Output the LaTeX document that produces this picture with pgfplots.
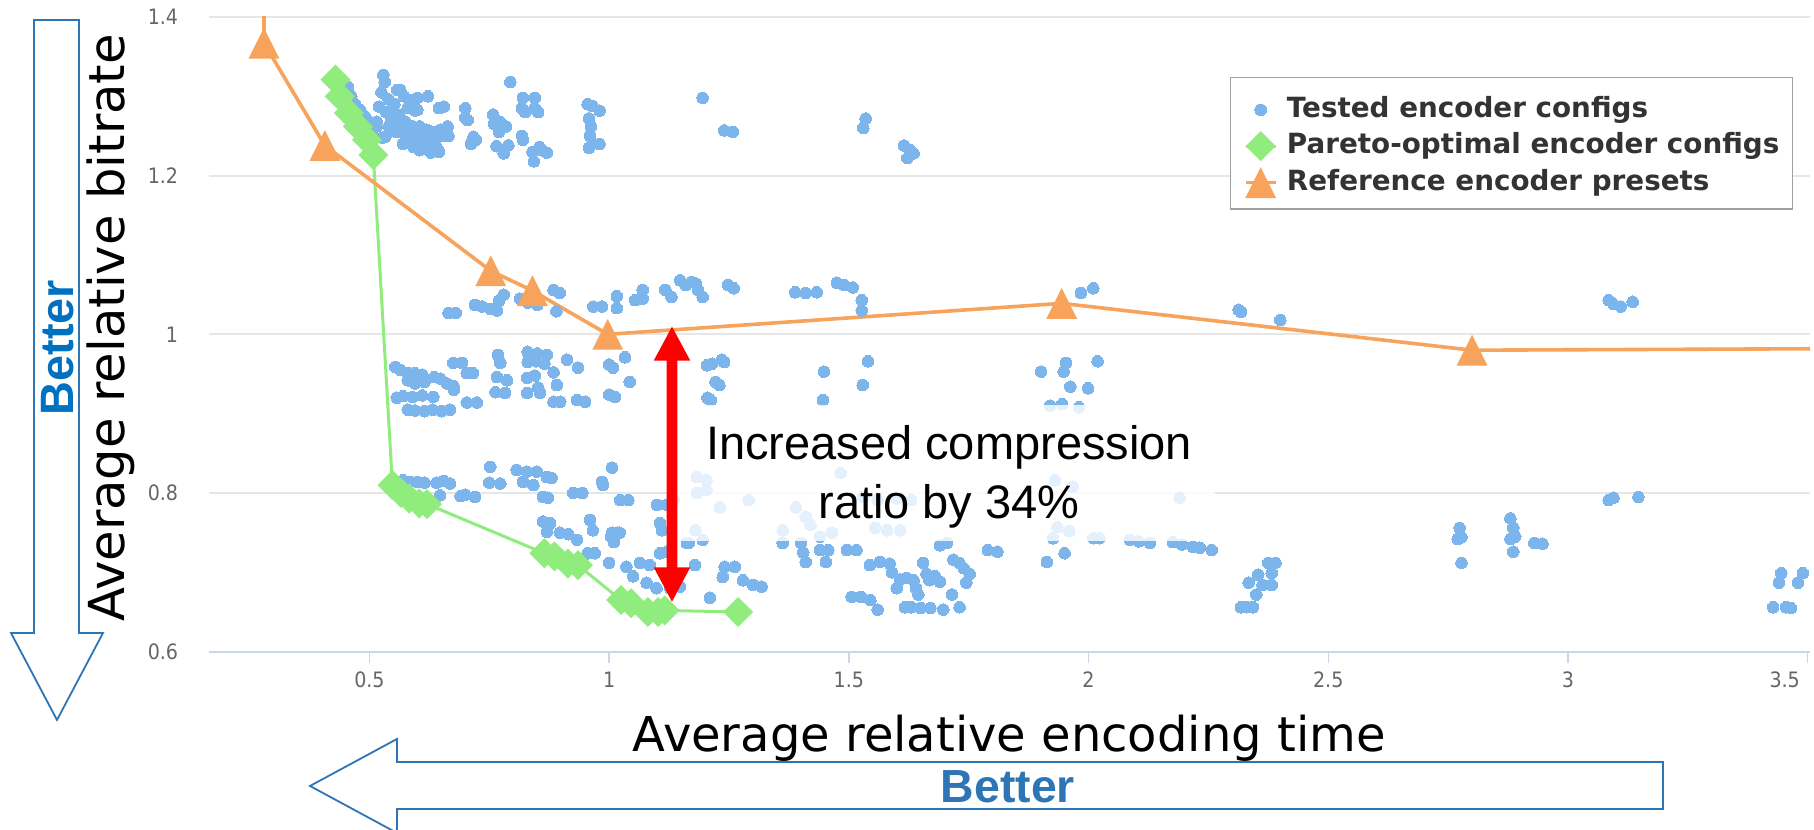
\documentclass[border=0pt]{standalone}
\usepackage{fontspec}
\usepackage{pgfplots}
\usepackage{pgfplotstable}
\pgfplotsset{compat=1.18}
\setmainfont{DejaVu Sans}
\newfontfamily\labelfont{DejaVu Sans}
\newfontfamily\tickfont{DejaVu Sans Condensed}
\newfontfamily\arialfont{Liberation Sans}

\definecolor{hcblue}{HTML}{7CB5EC}
\definecolor{hcgreen}{HTML}{90ED7D}
\definecolor{hcorange}{HTML}{F7A35C}
\definecolor{gridgray}{HTML}{E6E6E6}
\definecolor{axisline}{HTML}{CCD6EB}
\definecolor{tickgray}{HTML}{666666}
\definecolor{legtext}{HTML}{333333}
\definecolor{legborder}{HTML}{A0A0A0}
\definecolor{arrowblue}{HTML}{2E75B6}
\definecolor{betterblue}{HTML}{0070C0}

% square diamond and isosceles triangle markers
\pgfdeclareplotmark{hcdiamond}{%
  \pgfpathmoveto{\pgfqpoint{0pt}{\pgfplotmarksize}}%
  \pgfpathlineto{\pgfqpoint{\pgfplotmarksize}{0pt}}%
  \pgfpathlineto{\pgfqpoint{0pt}{-\pgfplotmarksize}}%
  \pgfpathlineto{\pgfqpoint{-\pgfplotmarksize}{0pt}}%
  \pgfpathclose\pgfusepathqfill}
\pgfdeclareplotmark{hctriangle}{%
  \pgfpathmoveto{\pgfqpoint{0pt}{\pgfplotmarksize}}%
  \pgfpathlineto{\pgfqpoint{\pgfplotmarksize}{-\pgfplotmarksize}}%
  \pgfpathlineto{\pgfqpoint{-\pgfplotmarksize}{-\pgfplotmarksize}}%
  \pgfpathclose\pgfusepathqfill}

% legend glyphs: a single mark, or a short line with one mark in its middle
\pgfplotsset{
  dotlegend/.style={legend image code/.code={%
    \draw[##1] plot coordinates {(3.75pt,1.85pt)};}},
  linelegend/.style={legend image code/.code={%
    \draw[##1, mark indices={2}]
      plot coordinates {(0pt,1.85pt) (3.75pt,1.85pt) (7.5pt,1.85pt)};}},
}

% all tested encoder configurations: time, bitrate
\pgfplotstableread{
x y
0.455 1.312
0.462 1.300
0.470 1.290
0.480 1.283
0.490 1.275
0.500 1.268
0.515 1.262
0.529 1.327
0.532 1.318
0.525 1.305
0.540 1.296
0.552 1.290
0.558 1.308
0.564 1.308
0.572 1.300
0.585 1.295
0.600 1.298
0.622 1.300
0.520 1.287
0.535 1.280
0.548 1.284
0.562 1.276
0.580 1.285
0.595 1.282
0.600 1.283
0.505 1.255
0.515 1.268
0.527 1.248
0.533 1.249
0.540 1.262
0.545 1.270
0.555 1.255
0.558 1.265
0.568 1.258
0.575 1.268
0.575 1.250
0.588 1.252
0.590 1.262
0.600 1.247
0.605 1.262
0.612 1.254
0.620 1.258
0.622 1.250
0.635 1.255
0.648 1.258
0.663 1.262
0.665 1.250
0.570 1.240
0.585 1.245
0.600 1.240
0.615 1.243
0.632 1.245
0.630 1.238
0.640 1.236
0.645 1.230
0.592 1.236
0.605 1.232
0.628 1.229
0.650 1.250
0.645 1.285
0.655 1.287
0.700 1.285
0.705 1.270
0.700 1.273
0.712 1.240
0.722 1.245
0.717 1.249
0.758 1.277
0.760 1.265
0.772 1.268
0.770 1.255
0.785 1.262
0.765 1.237
0.780 1.228
0.790 1.238
0.794 1.318
0.820 1.298
0.845 1.298
0.818 1.285
0.825 1.280
0.845 1.285
0.852 1.280
0.818 1.250
0.820 1.245
0.840 1.230
0.855 1.236
0.860 1.232
0.870 1.229
0.843 1.218
0.955 1.290
0.965 1.288
0.980 1.282
0.958 1.272
0.962 1.262
0.960 1.250
0.965 1.240
0.958 1.235
0.980 1.240
1.195 1.298
1.240 1.257
1.258 1.255
1.535 1.272
1.530 1.260
1.615 1.238
1.628 1.232
1.635 1.228
1.622 1.222
0.665 1.027
0.680 1.027
0.720 1.037
0.735 1.035
0.752 1.032
0.766 1.030
0.770 1.042
0.780 1.050
0.814 1.045
0.830 1.040
0.850 1.037
0.884 1.056
0.897 1.052
0.890 1.029
0.967 1.035
0.985 1.035
1.016 1.048
1.016 1.033
1.054 1.043
1.070 1.045
1.070 1.056
1.117 1.056
1.130 1.047
1.148 1.068
1.160 1.062
1.172 1.066
1.181 1.064
1.185 1.056
1.195 1.047
1.248 1.062
1.260 1.058
1.388 1.053
1.410 1.052
1.433 1.053
1.475 1.065
1.490 1.062
1.508 1.059
1.527 1.043
1.527 1.030
1.984 1.052
2.010 1.058
2.313 1.031
2.318 1.028
2.400 1.018
3.085 1.043
3.095 1.038
3.110 1.035
3.135 1.041
0.554 0.959
0.565 0.955
0.580 0.951
0.595 0.951
0.610 0.949
0.557 0.920
0.570 0.922
0.590 0.921
0.610 0.923
0.580 0.942
0.595 0.938
0.615 0.940
0.635 0.946
0.648 0.944
0.662 0.938
0.675 0.935
0.580 0.905
0.595 0.904
0.615 0.903
0.632 0.905
0.650 0.903
0.668 0.905
0.633 0.921
0.675 0.964
0.693 0.964
0.703 0.951
0.716 0.951
0.676 0.930
0.703 0.914
0.724 0.914
0.768 0.974
0.773 0.964
0.766 0.946
0.787 0.942
0.763 0.927
0.783 0.926
0.830 0.978
0.850 0.976
0.870 0.974
0.830 0.965
0.848 0.966
0.865 0.963
0.829 0.945
0.845 0.948
0.852 0.933
0.829 0.926
0.856 0.926
0.884 0.952
0.884 0.915
0.898 0.915
0.891 0.936
0.912 0.968
0.935 0.958
0.933 0.917
0.950 0.915
1.000 0.962
1.008 0.958
1.033 0.971
1.000 0.924
1.012 0.921
1.043 0.940
1.204 0.961
1.215 0.963
1.235 0.968
1.240 0.965
1.222 0.940
1.230 0.936
1.205 0.920
1.212 0.917
1.448 0.953
1.446 0.917
1.540 0.966
1.529 0.936
1.901 0.953
1.953 0.964
1.948 0.953
1.962 0.934
1.999 0.932
2.019 0.966
1.920 0.910
1.945 0.912
1.980 0.908
0.570 0.816
0.585 0.814
0.600 0.814
0.615 0.813
0.640 0.813
0.655 0.815
0.668 0.812
0.647 0.797
0.690 0.796
0.700 0.798
0.720 0.795
0.752 0.833
0.750 0.813
0.773 0.812
0.807 0.829
0.828 0.827
0.849 0.827
0.820 0.814
0.842 0.810
0.870 0.820
0.880 0.819
0.862 0.795
0.872 0.794
0.925 0.800
0.944 0.800
0.985 0.814
0.987 0.810
1.006 0.832
1.023 0.791
1.040 0.791
1.100 0.785
1.120 0.785
0.862 0.764
0.877 0.762
0.870 0.751
0.897 0.750
0.915 0.748
0.933 0.741
0.960 0.766
0.966 0.753
1.006 0.750
1.010 0.738
1.022 0.750
0.955 0.724
0.970 0.724
1.000 0.712
1.036 0.707
1.064 0.712
1.085 0.709
1.050 0.695
1.078 0.687
1.099 0.680
1.127 0.680
1.148 0.682
1.179 0.709
1.106 0.762
1.110 0.753
1.106 0.724
1.120 0.726
1.162 0.737
1.180 0.753
1.183 0.820
1.183 0.800
1.241 0.707
1.262 0.707
1.237 0.694
1.279 0.690
1.300 0.684
1.318 0.682
1.210 0.668
1.362 0.737
1.362 0.753
1.400 0.737
1.405 0.725
1.410 0.713
1.440 0.728
1.457 0.728
1.452 0.713
1.496 0.728
1.516 0.728
1.506 0.669
1.525 0.669
1.545 0.665
1.560 0.653
1.544 0.709
1.565 0.713
1.585 0.711
1.590 0.700
1.607 0.691
1.600 0.680
1.617 0.656
1.630 0.656
1.650 0.655
1.670 0.655
1.697 0.653
1.620 0.693
1.635 0.690
1.640 0.680
1.645 0.672
1.655 0.712
1.662 0.698
1.668 0.690
1.680 0.695
1.690 0.688
1.690 0.734
1.705 0.737
1.718 0.716
1.730 0.712
1.740 0.705
1.752 0.698
1.745 0.687
1.715 0.672
1.731 0.656
1.790 0.728
1.810 0.726
1.913 0.713
1.950 0.724
1.926 0.743
2.010 0.743
2.023 0.743
2.086 0.741
2.105 0.739
2.128 0.737
2.176 0.738
2.195 0.735
2.218 0.732
2.232 0.731
2.257 0.728
2.318 0.656
2.330 0.656
2.343 0.656
2.350 0.672
2.334 0.687
2.354 0.697
2.363 0.684
2.375 0.712
2.390 0.712
2.382 0.699
2.382 0.684
2.774 0.756
2.778 0.744
2.770 0.742
2.778 0.712
2.880 0.768
2.886 0.756
2.880 0.742
2.890 0.745
2.886 0.726
2.930 0.737
2.947 0.736
3.085 0.791
3.095 0.794
3.147 0.795
3.428 0.656
3.455 0.656
3.465 0.655
3.440 0.687
3.445 0.699
3.480 0.687
3.490 0.699
1.135 0.791
1.004 0.745
1.018 0.750
1.166 0.737
1.195 0.741
1.203 0.816
1.203 0.804
1.231 0.782
1.291 0.791
1.390 0.782
1.410 0.770
1.420 0.760
1.440 0.745
1.465 0.750
1.483 0.825
1.530 0.795
1.560 0.791
1.600 0.793
1.630 0.791
1.555 0.756
1.580 0.753
1.607 0.753
1.930 0.816
1.967 0.808
1.935 0.757
1.960 0.752
2.190 0.794
}\tested

% Pareto front
\pgfplotstableread{
x y
0.429 1.321
0.438 1.300
0.457 1.279
0.476 1.262
0.495 1.245
0.508 1.226
0.548 0.810
0.566 0.800
0.583 0.793
0.604 0.787
0.620 0.786
0.865 0.724
0.886 0.720
0.914 0.711
0.935 0.709
1.025 0.665
1.046 0.661
1.081 0.650
1.102 0.650
1.116 0.652
1.269 0.650
}\pareto

% reference presets (first and last rows lie outside the visible range)
\pgfplotstableread{
x y
0.280 1.600
0.280 1.367
0.407 1.238
0.753 1.080
0.840 1.055
0.997 1.000
1.944 1.039
2.800 0.980
4.000 0.983
}\presets

\begin{document}
\begin{tikzpicture}
\begin{axis}[
  at={(52.175pt,44.575pt)}, anchor=south west,
  scale only axis, width=400.33pt, height=158.68pt,
  xmin=0.1647, xmax=3.505, ymin=0.6, ymax=1.4,
  axis x line=bottom, axis y line=left,
  x axis line style={-, draw=axisline, line width=0.5pt},
  y axis line style={-, draw=none},
  xtick={0.5,1,1.5,2,2.5,3},
  extra x ticks={3.5},
  extra x tick style={xticklabel style={anchor=north east, xshift=-1.75pt}},
  ytick={0.6,0.8,1,1.2,1.4},
  xtick style={draw=axisline, line width=0.35pt},
  ytick style={draw=none},
  tick align=outside, major tick length=2.75pt,
  ymajorgrids, major grid style={draw=gridgray, line width=0.5pt},
  /pgf/number format/assume math mode=true,
  ticklabel style={font=\tickfont\fontsize{5.3}{6}\selectfont, text=tickgray},
  xticklabel style={anchor=north, inner sep=0pt, yshift=-2.1pt},
  yticklabel style={anchor=east, inner sep=0pt, xshift=-4.7pt},
  xlabel={Average relative encoding time},
  ylabel={Average relative bitrate},
  label style={font=\labelfont\fontsize{12}{14}\selectfont, inner sep=0pt},
  xlabel style={at={(axis description cs:0.5,-0.158)}, anchor=base},
  ylabel style={at={(axis description cs:-0.0523,0.51)}, anchor=base,
    font=\labelfont\fontsize{12.4}{14}\selectfont},
  legend style={
    at={(axis description cs:0.6378,0.9055)}, anchor=north west,
    draw=legborder, line width=0.35pt, fill=white,
    inner xsep=3.3pt, inner ysep=2.7pt,
    row sep=0pt, column sep=2.35pt,
    cells={anchor=base west},
    nodes={inner sep=0pt, text height=7.2pt, text depth=1.9pt,
      font=\labelfont\bfseries\fontsize{6.95}{8}\selectfont, text=legtext},
  },
]
\addplot[only marks, mark=*, mark size=1.45pt, color=hcblue,
  mark options={line width=0pt}, dotlegend]
  table[x=x, y=y] {\tested};
\addplot[color=hcgreen, line width=0.75pt, mark=hcdiamond, mark size=3.75pt,
  mark options={fill=hcgreen}, linelegend]
  table[x=x, y=y] {\pareto};
\addplot[color=hcorange, line width=0.9pt, mark=hctriangle, mark size=3.85pt,
  mark options={fill=hcorange}, mark indices={1,2,3,4,5,6,7}, linelegend]
  table[x=x, y=y] {\presets};
\legend{Tested encoder configs, Pareto-optimal encoder configs, Reference encoder presets}
\end{axis}

% annotations, measured from the top-left corner in units of 0.25pt
\begin{scope}[x=0.25pt, y=-0.25pt, shift={(0pt,207.5pt)}]
  % backdrop of the annotation text
  \fill[white, opacity=0.8] (677,405) rectangle (1215,541);
  % double-headed gain arrow
  \fill[red] (672,326.7) -- (690.3,360.7) -- (677.3,360.7) -- (677.3,567.3)
    -- (690.3,567.3) -- (672,601.7) -- (653.7,567.3) -- (666.7,567.3)
    -- (666.7,360.7) -- (653.7,360.7) -- cycle;
  \node[anchor=base, inner sep=0pt, font=\arialfont\fontsize{11.75}{14}\selectfont]
    at (949,460) {Increased compression};
  \node[anchor=base, inner sep=0pt, font=\arialfont\fontsize{11.75}{14}\selectfont]
    at (949,518.3) {ratio by 34\%};
  % "better" direction arrows
  \draw[arrowblue, line width=0.45pt, fill=white, line join=miter]
    (34,20) -- (79,20) -- (79,633) -- (103,633) -- (57,720) -- (11,633) -- (34,633) -- cycle;
  \node[rotate=90, anchor=base, inner sep=0pt, text=betterblue,
    font=\arialfont\bfseries\fontsize{11.7}{14}\selectfont] at (73.6,347.5) {Better};
  \draw[arrowblue, line width=0.45pt, fill=white, line join=miter]
    (1663,762) -- (397,762) -- (397,739) -- (310,786) -- (397,833) -- (397,809) -- (1663,809) -- cycle;
  \node[anchor=base, inner sep=0pt, text=arrowblue,
    font=\arialfont\bfseries\fontsize{11.6}{14}\selectfont] at (1008,803) {Better};
\end{scope}

\pgfresetboundingbox
\useasboundingbox (0,0) rectangle (453.5pt,207.5pt);
\end{tikzpicture}
\end{document}
